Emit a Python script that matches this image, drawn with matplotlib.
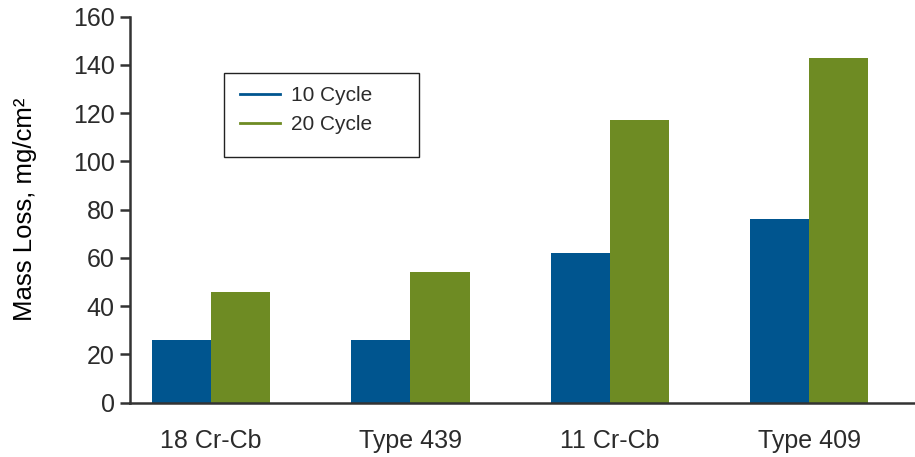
import matplotlib
matplotlib.use("Agg")
import matplotlib.pyplot as plt
from matplotlib.lines import Line2D
from matplotlib.patches import Rectangle
import numpy as np

# data
grades = ["18 Cr-Cb", "Type 439", "11 Cr-Cb", "Type 409"]
cycle_10 = [26, 26, 62, 76]
cycle_20 = [46, 54, 117, 143]
y_ticks = [0, 20, 40, 60, 80, 100, 120, 140, 160]

blue = "#00558F"
green = "#6E8B23"
txt = "#2B2B2B"

plt.rcParams["font.family"] = ["Liberation Sans", "DejaVu Sans"]

fig = plt.figure(figsize=(9.15, 4.57), dpi=100)
ax = fig.add_axes([0.1421, 0.1188, 0.858, 0.845])

x = np.arange(len(grades))
w = 0.296
ax.bar(x - w / 2, cycle_10, width=w, color=blue)
ax.bar(x + w / 2, cycle_20, width=w, color=green)

ax.set_xlim(-0.406, 3.53)
ax.set_ylim(0, 160)
ax.set_yticks(y_ticks)
ax.set_xticks(x)
ax.set_xticklabels(grades)

for s in ["top", "right"]:
    ax.spines[s].set_visible(False)
for s in ["left", "bottom"]:
    ax.spines[s].set_color("#333333")
    ax.spines[s].set_linewidth(1.8)

ax.tick_params(axis="y", length=7, width=1.8, color="#333333",
               labelsize=18, labelcolor=txt, pad=4)
ax.tick_params(axis="x", length=0, labelsize=18, labelcolor=txt, pad=19)

ax.set_ylabel("Mass Loss, mg/cm\u00b2", fontsize=18.5, color="black", labelpad=26)

# legend box is larger than its content in the original, so draw it apart
ax.add_patch(Rectangle((0.12, 0.636), 0.248, 0.218, transform=ax.transAxes,
                       fill=False, edgecolor="#222222", lw=1.0, clip_on=False))
handles = [Line2D([0], [0], color=blue, lw=2),
           Line2D([0], [0], color=green, lw=2)]
leg = ax.legend(handles, ["10 Cycle", "20 Cycle"], loc="upper left",
                bbox_to_anchor=(0.14, 0.820), borderaxespad=0, borderpad=0,
                fontsize=15, frameon=False, handlelength=1.9,
                handletextpad=0.55, labelspacing=0.5)
for t in leg.get_texts():
    t.set_color(txt)

fig.savefig("out.png", dpi=100)
